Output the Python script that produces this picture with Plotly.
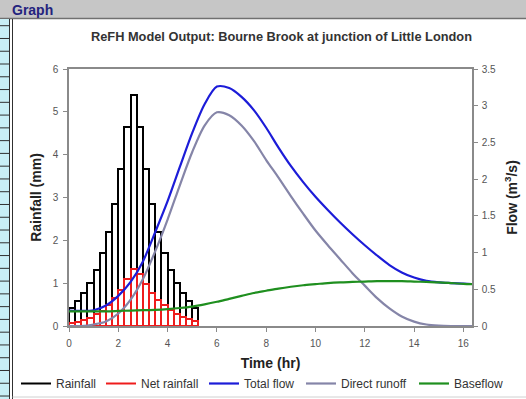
import plotly.graph_objects as go

# ---------------- data ----------------
rain_time = [0.125, 0.375, 0.625, 0.875, 1.125, 1.375, 1.625, 1.875, 2.125, 2.375,
             2.625, 2.875, 3.125, 3.375, 3.625, 3.875, 4.125, 4.375, 4.625, 4.875, 5.125]
rainfall = [0.43, 0.58, 0.76, 1.01, 1.31, 1.70, 2.20, 2.85, 3.66, 4.65,
            5.39, 4.65, 3.66, 2.85, 2.20, 1.70, 1.31, 1.01, 0.76, 0.58, 0.43]
net_rainfall = [0.07, 0.10, 0.14, 0.19, 0.27, 0.36, 0.49, 0.65, 0.85, 1.09,
                1.32, 1.22, 0.97, 0.77, 0.61, 0.48, 0.37, 0.29, 0.21, 0.16, 0.11]

flow_time = [0, 0.5, 1, 1.5, 2, 2.5, 3, 3.5, 4, 4.5, 5, 5.5, 6, 6.5, 7, 7.5, 8, 8.5,
             9, 9.5, 10, 10.5, 11, 11.5, 12, 12.5, 13, 13.5, 14, 14.5, 15, 15.5, 16, 16.5]
total_flow = [0.21, 0.205, 0.215, 0.28, 0.41, 0.60, 0.88, 1.28, 1.70, 2.17, 2.63, 3.02,
              3.26, 3.24, 3.12, 2.94, 2.70, 2.43, 2.18, 1.96, 1.76, 1.58, 1.41, 1.25,
              1.10, 0.96, 0.83, 0.73, 0.66, 0.615, 0.595, 0.585, 0.577, 0.57]
direct_runoff = [0.0, 0.0, 0.02, 0.06, 0.17, 0.36, 0.64, 1.02, 1.45, 1.92, 2.37, 2.73,
                 2.91, 2.87, 2.73, 2.52, 2.26, 2.02, 1.77, 1.53, 1.30, 1.10, 0.91, 0.72,
                 0.55, 0.38, 0.24, 0.13, 0.06, 0.02, 0.005, 0.0, 0.0, 0.0]
baseflow = [0.20, 0.20, 0.20, 0.20, 0.205, 0.21, 0.215, 0.22, 0.23, 0.245, 0.265, 0.295,
            0.33, 0.37, 0.41, 0.45, 0.48, 0.51, 0.535, 0.555, 0.57, 0.585, 0.595, 0.60,
            0.605, 0.61, 0.61, 0.61, 0.605, 0.60, 0.595, 0.585, 0.575, 0.57]

x_ticks = [0, 2, 4, 6, 8, 10, 12, 14, 16]
y1_ticks = [0, 1, 2, 3, 4, 5, 6]
y2_ticks = [0, 0.5, 1, 1.5, 2, 2.5, 3, 3.5]
y2_labels = ["0", "0.5", "1", "1.5", "2", "2.5", "3", "3.5"]

# ---------------- layout geometry ----------------
W, H = 526, 399
L, R, T, B = 69, 472, 69, 326   # plot-area pixel box


def xp(px):
    return (px - L) / (R - L)


def yp(py):
    return (B - py) / (B - T)


FONT = "Liberation Sans, Arial, sans-serif"
BLUE = "#1c1cd8"
PURPLE = "#8585a8"
GREEN = "#1f8f1f"
RED = "#ee1c1c"

fig = go.Figure()

# Rainfall bars (outlined)
fig.add_trace(go.Bar(x=rain_time, y=rainfall, width=0.25, yaxis="y",
                     marker=dict(color="rgba(0,0,0,0)", line=dict(color="black", width=2)),
                     showlegend=False, name="Rainfall"))
fig.add_trace(go.Bar(x=rain_time, y=net_rainfall, width=0.25, yaxis="y",
                     marker=dict(color="rgba(0,0,0,0)", line=dict(color=RED, width=2)),
                     showlegend=False, name="Net rainfall"))

# legend proxies for bars (legend shows line keys as in the original)
fig.add_trace(go.Scatter(x=[None], y=[None], mode="lines", name="Rainfall",
                         line=dict(color="black", width=2), legend="legend"))
fig.add_trace(go.Scatter(x=[None], y=[None], mode="lines", name="Net rainfall",
                         line=dict(color=RED, width=2), legend="legend2"))

# Flow lines
fig.add_trace(go.Scatter(x=flow_time, y=total_flow, mode="lines", name="Total flow",
                         yaxis="y2", legend="legend3",
                         line=dict(color=BLUE, width=2.2, shape="spline", smoothing=0.8)))
fig.add_trace(go.Scatter(x=flow_time, y=direct_runoff, mode="lines", name="Direct runoff",
                         yaxis="y2", legend="legend4",
                         line=dict(color=PURPLE, width=2.2, shape="spline", smoothing=0.8)))
fig.add_trace(go.Scatter(x=flow_time, y=baseflow, mode="lines", name="Baseflow",
                         yaxis="y2", legend="legend5",
                         line=dict(color=GREEN, width=2.2, shape="spline", smoothing=0.8)))

# decorative frame (spreadsheet window look)
shapes = [
    dict(type="rect", xref="paper", yref="paper", x0=xp(0), x1=xp(W), y0=yp(0), y1=yp(18),
         fillcolor="#c6c6c6", line=dict(width=0), layer="below"),
    dict(type="line", xref="paper", yref="paper", x0=xp(0), x1=xp(W), y0=yp(18.5), y1=yp(18.5),
         line=dict(color="#707070", width=1.5), layer="below"),
    dict(type="rect", xref="paper", yref="paper", x0=xp(0), x1=xp(9), y0=yp(19), y1=yp(H),
         fillcolor="#c8eff6", line=dict(width=0), layer="below"),
    dict(type="line", xref="paper", yref="paper", x0=xp(9.5), x1=xp(9.5), y0=yp(19), y1=yp(H),
         line=dict(color="#303030", width=1), layer="below"),
    dict(type="line", xref="paper", yref="paper", x0=xp(12.5), x1=xp(12.5), y0=yp(19), y1=yp(H),
         line=dict(color="#303030", width=1), layer="below"),
    dict(type="line", xref="paper", yref="paper", x0=xp(12.5), x1=xp(W), y0=yp(397), y1=yp(397),
         line=dict(color="#d0d0d0", width=1), layer="below"),
]
k = 0
while 25.7 + 12.77 * k < H:
    yy = 25.7 + 12.77 * k
    shapes.append(dict(type="line", xref="paper", yref="paper", x0=xp(0), x1=xp(9.5),
                       y0=yp(yy), y1=yp(yy), line=dict(color="#303030", width=1), layer="below"))
    k += 1


def legend_at(line_start_px):
    return dict(orientation="h", x=xp(line_start_px - 9), xanchor="left",
                y=yp(369), yanchor="top", font=dict(size=12, color="#333333"),
                bgcolor="rgba(0,0,0,0)", itemwidth=30)


fig.update_layout(
    width=W, height=H,
    margin=dict(l=L, r=W - R, t=T, b=H - B, autoexpand=False),
    paper_bgcolor="white", plot_bgcolor="white",
    font=dict(family=FONT, color="#333333"),
    barmode="overlay", bargap=0,
    title=dict(text="ReFH Model Output: Bourne Brook at junction of Little London",
               x=281.5 / W, y=1 - 37 / H, xanchor="center", yanchor="middle",
               xref="container", yref="container",
               font=dict(family=FONT, size=12.8, weight="bold", color="#333333")),
    xaxis=dict(range=[0, 16.35], tickvals=x_ticks, showgrid=False, zeroline=False,
               showline=True, linecolor="#8a8a8a", linewidth=1.5, mirror=True,
               ticks="outside", ticklen=4, tickcolor="#8a8a8a", ticklabelstandoff=3,
               tickfont=dict(size=10, color="#555555"), automargin=False,
               title=dict(text="Time (hr)", standoff=10,
                          font=dict(size=14, weight="bold", color="#222222"))),
    yaxis=dict(range=[0, 6], tickvals=y1_ticks, showgrid=False, zeroline=False,
               showline=True, linecolor="#8a8a8a", linewidth=1.5,
               ticks="outside", ticklen=4, tickcolor="#8a8a8a", ticklabelstandoff=3,
               tickfont=dict(size=10, color="#555555"), automargin=False,
               title=dict(text="Rainfall (mm)", standoff=8,
                          font=dict(size=14, weight="bold", color="#222222"))),
    yaxis2=dict(range=[0, 3.5], tickvals=y2_ticks, ticktext=y2_labels, overlaying="y",
                side="right", showgrid=False, zeroline=False,
                showline=True, linecolor="#8a8a8a", linewidth=1.5,
                ticks="outside", ticklen=4, tickcolor="#8a8a8a", ticklabelstandoff=2,
                tickfont=dict(size=10, color="#555555"), automargin=False,
                title=dict(text="Flow (m<sup>3</sup>/s)", standoff=12,
                           font=dict(size=14, weight="bold", color="#222222"))),
    legend=legend_at(25),
    legend2=legend_at(110),
    legend3=legend_at(213),
    legend4=legend_at(310),
    legend5=legend_at(423),
    shapes=shapes,
    annotations=[dict(text="<b>Graph</b>", xref="paper", yref="paper", x=xp(10), y=yp(10),
                      xanchor="left", yanchor="middle", showarrow=False,
                      font=dict(family=FONT, size=14, color="#23237e"))],
)

fig.write_html("out.html", config={"displayModeBar": False},
               post_script="document.body.style.margin='0';document.body.style.overflow='hidden';")
